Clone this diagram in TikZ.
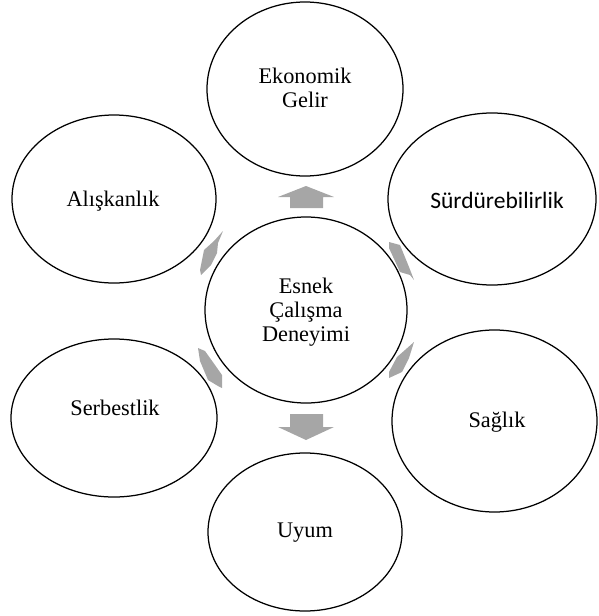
\documentclass[tikz,border=0pt]{standalone}
\usepackage{fontspec}
\setmainfont{Liberation Serif}
\newfontfamily\calibrifont{Carlito}
\usetikzlibrary{shapes.geometric}
\definecolor{arrowgray}{HTML}{A6A6A6}
\tikzset{
  bubble/.style={draw=black, line width=1.25pt, ellipse, inner sep=0pt, fill=white},
  lbl/.style={font=\fontsize{22.3}{24}\selectfont, align=center, inner sep=0pt},
  blockarrow/.style={fill=arrowgray, draw=none}
}
\begin{document}
\begin{tikzpicture}[x=1pt, y=-1pt]
\useasboundingbox (0,0) rectangle (598,616);
% satellites
\node[bubble, minimum width=196pt, minimum height=174pt] (eko) at (305,89) {};
\node[bubble, minimum width=208pt, minimum height=172pt] (sur) at (492,199) {};
\node[bubble, minimum width=205pt, minimum height=182pt] (sag) at (494.5,421) {};
\node[bubble, minimum width=194pt, minimum height=158pt] (uyum) at (305,532) {};
\node[bubble, minimum width=206pt, minimum height=158pt] (ser) at (114,418) {};
\node[bubble, minimum width=204pt, minimum height=168pt] (ali) at (114,199) {};
% centre
\node[bubble, minimum width=202pt, minimum height=186pt] (esnek) at (306,310) {};
% labels
\node[lbl] (ekot) at (305,88) {Ekonomik\\Gelir};
\node[lbl, font=\calibrifont\fontsize{23.5}{24}\selectfont] (surt) at (497,200) {Sürdürebilirlik};
\node[lbl] (sagt) at (497,422) {Sağlık};
\node[lbl] (uyumt) at (305,533) {Uyum};
\node[lbl] (sert) at (115,408) {Serbestlik};
\node[lbl] (alit) at (113,201) {Alışkanlık};
\node[lbl] (esnekt) at (306,312) {Esnek\\Çalışma\\Deneyimi};
% block arrows
\fill[blockarrow] (306,186) -- (278,197) -- (290,197) -- (290,208) -- (323,208) -- (323,197) -- (334,197) -- cycle;
\fill[blockarrow] (290,414) -- (323,414) -- (323,427) -- (334,427) -- (306,440) -- (278,427) -- (290,427) -- cycle;
\fill[blockarrow] (223,231) -- (214,241) -- (204,250) -- (200,270) -- (201,275) -- (211,265) -- (217,253) -- (218,243) -- cycle;
\fill[blockarrow] (198,348) -- (205,351) -- (215,365) -- (222,375) -- (222,388) -- (218,386) -- (208,380) -- (200,361) -- cycle;
\fill[blockarrow] (389,242) -- (400,245) -- (409,267) -- (414,280) -- (410,275) -- (400,272) -- (389,248) -- cycle;
\fill[blockarrow] (414,342) -- (409,358) -- (402,372) -- (389,378) -- (389,372) -- (397,357) -- (405,350) -- cycle;
\end{tikzpicture}
\end{document}
